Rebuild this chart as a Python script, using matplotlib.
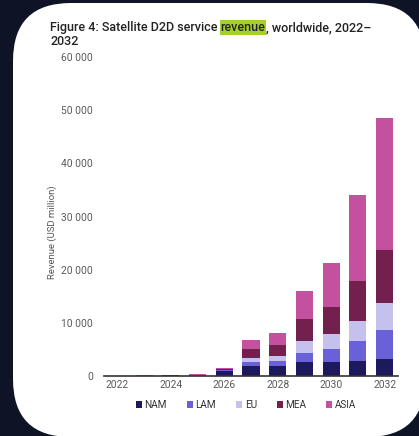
import matplotlib
matplotlib.use("Agg")
import matplotlib.pyplot as plt
from matplotlib.patches import FancyBboxPatch, Patch
from matplotlib.transforms import IdentityTransform
import numpy as np

plt.rcParams['font.family'] = ['Roboto', 'DejaVu Sans']

years = [2022, 2023, 2024, 2025, 2026, 2027, 2028, 2029, 2030, 2031, 2032]
tick_years = [2022, 2024, 2026, 2028, 2030, 2032]
nam  = [20, 20, 30, 80, 900, 1940, 1880, 2630, 2570, 2820, 3130]
lam  = [5, 5, 10, 30, 200, 760, 940, 1750, 2440, 3760, 5520]
eu   = [5, 5, 10, 30, 100, 750, 1000, 2260, 2820, 3820, 5010]
mea  = [20, 60, 80, 100, 100, 1550, 2010, 4010, 5070, 7500, 10040]
asia = [20, 30, 50, 200, 250, 1770, 2190, 5390, 8300, 16100, 24800]
series = [("NAM", nam), ("LAM", lam), ("EU", eu), ("MEA", mea), ("ASIA", asia)]
colors = ["#1c1a5c", "#6a60d8", "#c5c1ef", "#72214f", "#c4519f"]
yticks = [0, 10000, 20000, 30000, 40000, 50000, 60000]
ytick_labels = ["0", "10 000", "20 000", "30 000", "40 000", "50 000", "60 000"]

W, H = 419, 436
fig = plt.figure(figsize=(W / 100, H / 100), dpi=100)
fig.patch.set_facecolor("#0e1425")

card = FancyBboxPatch((13, -1), 412, 434, boxstyle="round,pad=0,rounding_size=58",
                      transform=IdentityTransform(), facecolor="white", edgecolor="none", zorder=-5)
fig.patches.append(card)

ax = fig.add_axes([104 / W, 1 - 376 / H, (398 - 104) / W, (376 - 57) / H])
ax.set_zorder(2)
ax.set_facecolor("none")
bottom = np.zeros(len(years))
for (name, vals), c in zip(series, colors):
    ax.bar(years, vals, width=0.64, bottom=bottom, color=c, label=name, zorder=2)
    bottom += np.array(vals)

ax.set_xlim(2021.5, 2032.5)
ax.set_ylim(0, 60000)
ax.set_yticks(yticks)
ax.set_yticklabels(ytick_labels)
ax.set_xticks(tick_years)
ax.set_xticklabels([str(y) for y in tick_years])
ax.tick_params(axis="both", length=0, labelsize=7.4, labelcolor="#5a5a5a")
ax.tick_params(axis="y", pad=8)
ax.tick_params(axis="x", pad=3)
for s in ["top", "right", "left"]:
    ax.spines[s].set_visible(False)
ax.spines["bottom"].set_color("#333333")
ax.spines["bottom"].set_linewidth(1.2)

fig.text(52 / W, 1 - 232 / H, "Revenue (USD million)", rotation=90, ha="center", va="center",
         fontsize=6.8, color="#555555")

handles = [Patch(facecolor=c, label=n) for (n, _), c in zip(series, colors)]
leg = fig.legend(handles=handles, loc="center", bbox_to_anchor=(246 / W, 1 - 405 / H), ncol=5,
                 frameon=False, fontsize=7.2, handlelength=0.6, handleheight=0.6,
                 handletextpad=0.25, columnspacing=2.0, labelcolor="#333333")

# Title with highlighted word
renderer = fig.canvas.get_renderer()
tkw = dict(fontsize=9, color="#222222", fontweight="medium", va="baseline", ha="left")
x0 = 50
yb1 = H - 31
pieces = [("Figure 4: Satellite D2D service ", None), ("revenue", "#a6d12a"),
          (", worldwide, 2022\u2013", None)]
x = x0
for txt, hl in pieces:
    t = fig.text(x / W, yb1 / H, txt, **tkw)
    if hl:
        t.set_bbox(dict(facecolor=hl, edgecolor="none", pad=0.6))
    bb = t.get_window_extent(renderer=renderer)
    x += bb.width
fig.text(x0 / W, (H - 45) / H, "2032", **tkw)

fig.savefig("out.png", dpi=100, facecolor=fig.get_facecolor())
